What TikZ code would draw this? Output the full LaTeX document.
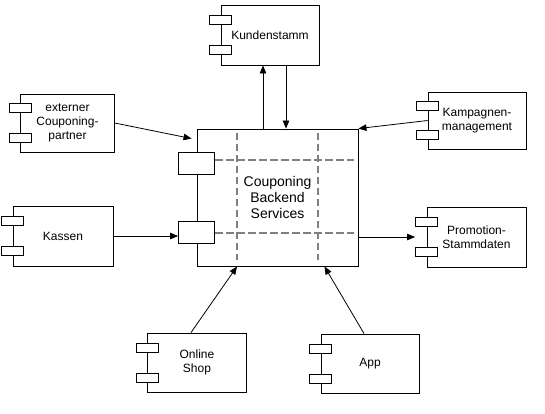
\documentclass[tikz,border=0pt]{standalone}
\usepackage{fontspec}
\setmainfont{Liberation Sans}
\usetikzlibrary{arrows.meta,calc}
\definecolor{dashgray}{RGB}{128,128,128}
\begin{document}
\begin{tikzpicture}[
  x=1pt, y=-1pt,
  lbl/.style={font=\fontsize{12}{14}\selectfont, align=center},
  comp/.style={draw, line width=0.9pt, fill=white, inner sep=0pt, lbl},
  tab/.style={draw, line width=0.9pt, fill=white, minimum width=22pt, minimum height=9pt, inner sep=0pt},
  bigtab/.style={tab, minimum width=36pt, minimum height=22pt},
  arr/.style={-{Triangle[length=8pt,width=6.5pt]}, line width=0.8pt},
  griddash/.style={draw=dashgray, line width=1.8pt, dash pattern=on 7.5pt off 3.5pt},
]
\useasboundingbox (0,0) rectangle (545,413);

% main component
\node[comp, minimum width=161pt, minimum height=137pt, font=\fontsize{14}{16}\selectfont] (main) at (277.5,197.5) {Couponing\\Backend\\Services};
\coordinate (v1) at ($(main.north west)!0.25!(main.north east)$);
\coordinate (v2) at ($(main.north west)!0.75!(main.north east)$);
\coordinate (h1) at ($(main.north west)!0.23!(main.south west)$);
\coordinate (h2) at ($(main.north west)!0.755!(main.south west)$);
\draw[griddash] ([yshift=-4pt]v1) -- ([yshift=6pt]v1 |- main.south);
\draw[griddash] ([yshift=-4pt]v2) -- ([yshift=6pt]v2 |- main.south);
\node[bigtab] (main-t1) at ($(main.north west)!0.25!(main.south west)$) {};
\node[bigtab] (main-t2) at ($(main.north west)!0.75!(main.south west)$) {};
\draw[griddash] (main-t1.east |- h1) -- ([xshift=-4pt]main.east |- h1);
\draw[griddash] (main-t2.east |- h2) -- ([xshift=-4pt]main.east |- h2);

% small components
\node[comp, minimum width=98pt, minimum height=60pt] (kund) at (270,35) {Kundenstamm};
\node[comp, minimum width=93.5pt, minimum height=58pt] (ext) at (67.5,123) {externer\\Couponing-\\partner};
\node[comp, minimum width=100pt, minimum height=60pt] (kas) at (63,236) {Kassen};
\node[comp, minimum width=98pt, minimum height=57pt] (kamp) at (477,120.5) {Kampagnen-\\management};
\node[comp, minimum width=99pt, minimum height=60pt] (prom) at (476.5,237) {Promotion-\\Stammdaten};
\node[comp, minimum width=99pt, minimum height=59pt] (shop) at (197,362.5) {Online\\Shop};
\node[comp, minimum width=98pt, minimum height=59pt] (app) at (370,363.5) {App};

\foreach \n in {kund,ext,kas,kamp,prom,shop,app}{
  \node[tab] (\n-t1) at ($(\n.north west)!0.25!(\n.south west)$) {};
  \node[tab] (\n-t2) at ($(\n.north west)!0.75!(\n.south west)$) {};
}

% connectors
\coordinate (extend) at ($(main.north west)+(-5,10)$);
\draw[arr] (ext.east) -- (extend);
\draw[arr] (kamp.west) -- (main.north east);
\coordinate (kup) at ($(kund.south)+(-7,0)$);
\coordinate (kdn) at ($(kund.south)+(16,0)$);
\draw[arr] (kup |- main.north) -- (kup);
\draw[arr] (kdn) -- (kdn |- main.north);
\draw[arr] (kas.east) -- (kas.east -| main-t2.west);
\draw[arr] (main.east |- prom.west) -- (prom-t1.west |- prom.west);
\coordinate (shopout) at ($(shop.north)+(-6,0)$);
\coordinate (shopin) at ($(main.south west)!0.25!(main.south east)$);
\draw[arr] (shopout) -- (shopin);
\coordinate (appout) at ($(app.north)+(-6,0)$);
\coordinate (appin) at ($(main.south west)!0.79!(main.south east)$);
\draw[arr] (appout) -- (appin);
\end{tikzpicture}
\end{document}
